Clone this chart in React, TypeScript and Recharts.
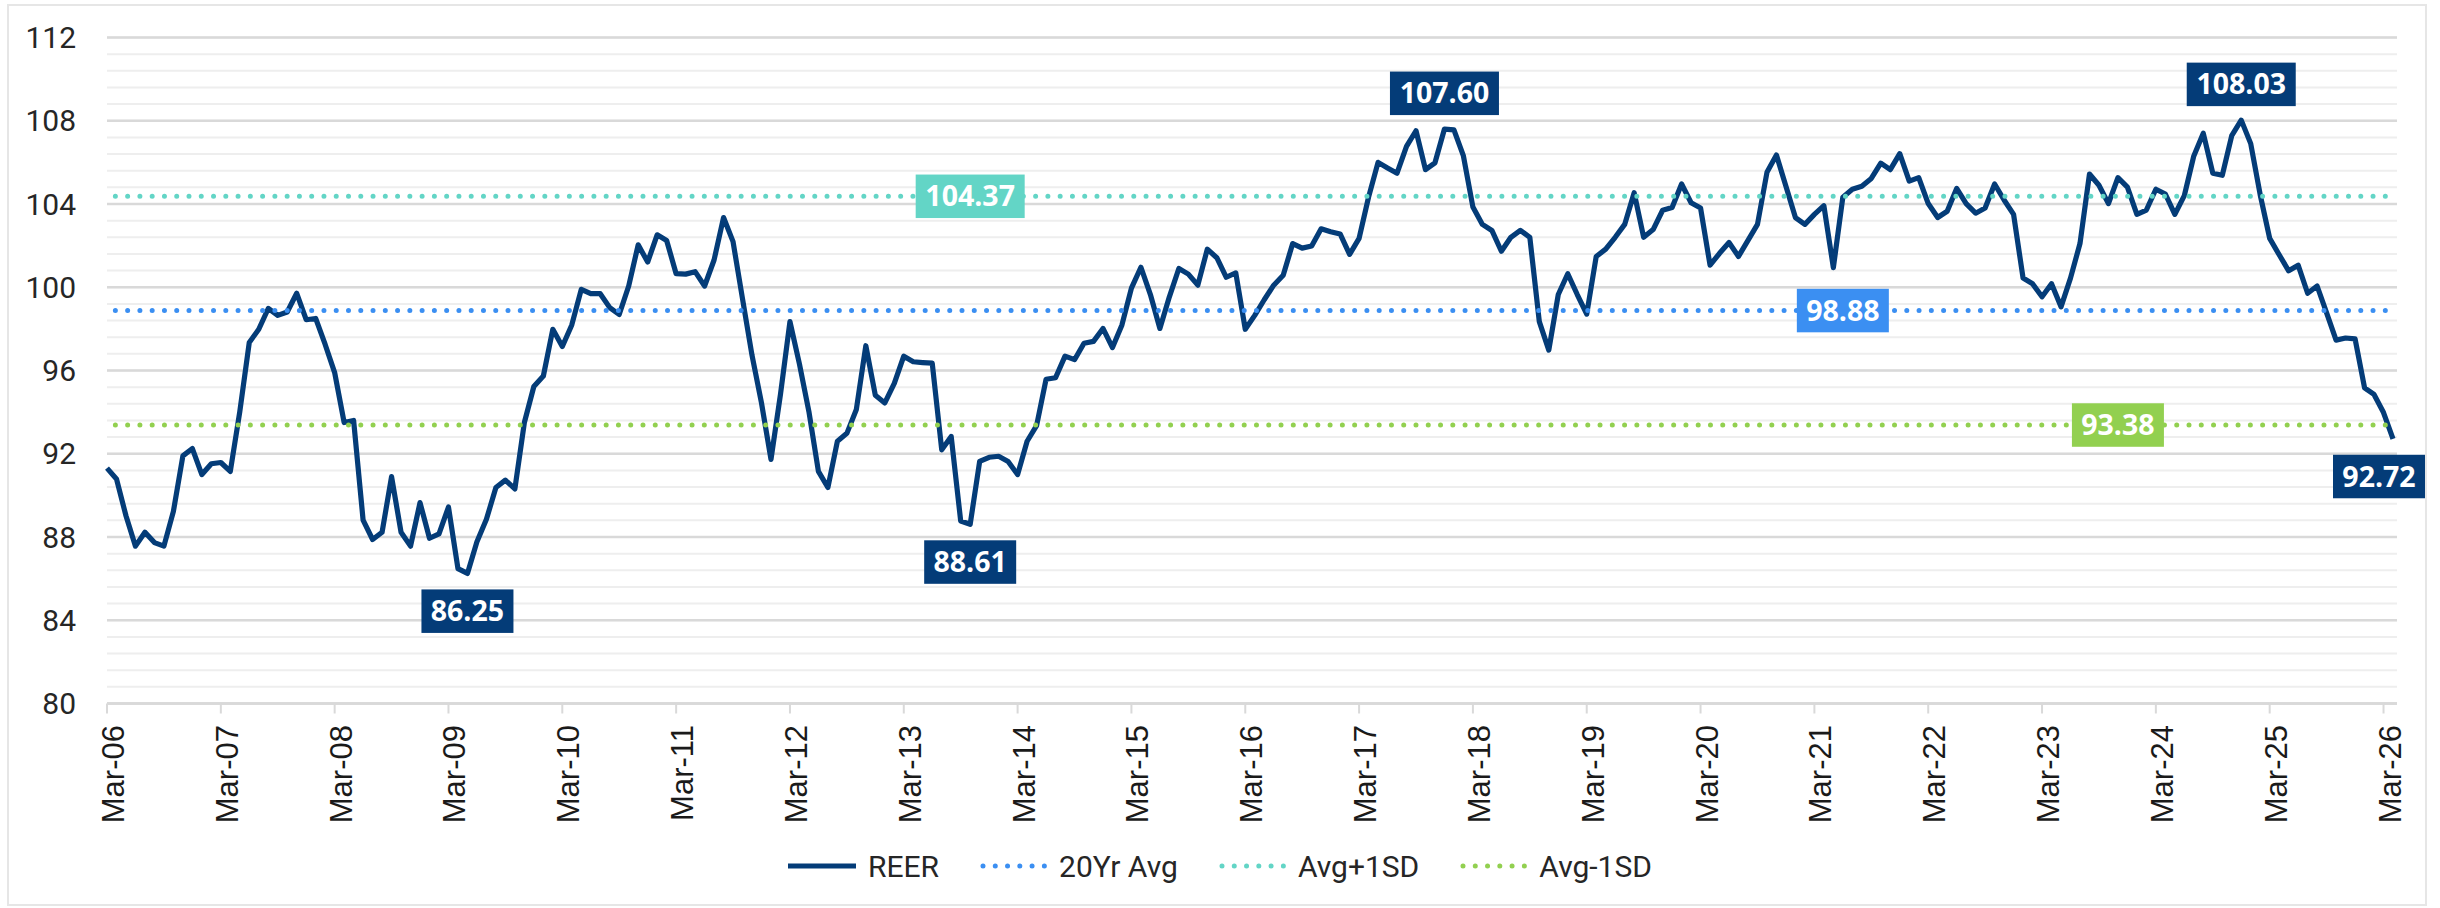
import React from "react";
import { LineChart, Line, XAxis, YAxis, CartesianGrid, Legend } from "recharts";

// monthly REER index, Mar-06 onwards
const REER = [
  91.31, 90.79, 89.02, 87.56, 88.23, 87.73, 87.56, 89.23, 91.9, 92.25,
  91.0, 91.52, 91.58, 91.15, 94.02, 97.35, 97.98, 98.98, 98.65, 98.81,
  99.71, 98.44, 98.5, 97.25, 95.9, 93.5, 93.6, 88.81, 87.88, 88.23,
  90.9, 88.23, 87.56, 89.65, 87.94, 88.15, 89.44, 86.48, 86.25, 87.77,
  88.85, 90.38, 90.73, 90.31, 93.5, 95.23, 95.73, 97.98, 97.15, 98.19,
  99.9, 99.69, 99.69, 99.02, 98.69, 100.06, 102.04, 101.21, 102.52, 102.25,
  100.65, 100.63, 100.75, 100.06, 101.31, 103.35, 102.19, 99.44, 96.73, 94.44,
  91.73, 94.85, 98.35, 96.31, 94.02, 91.15, 90.38, 92.6, 92.98, 94.13,
  97.19, 94.81, 94.44, 95.38, 96.69, 96.42, 96.38, 96.35, 92.19, 92.83,
  88.77, 88.61, 91.63, 91.83, 91.88, 91.63, 91.0, 92.6, 93.35, 95.58,
  95.65, 96.69, 96.52, 97.31, 97.4, 98.02, 97.1, 98.19, 99.96, 100.96,
  99.65, 98.02, 99.54, 100.9, 100.63, 100.1, 101.83, 101.42, 100.48, 100.69,
  97.98, 98.65, 99.4, 100.1, 100.58, 102.1, 101.88, 101.98, 102.81, 102.67,
  102.56, 101.58, 102.35, 104.33, 106.0, 105.73, 105.48, 106.77, 107.52, 105.65,
  105.98, 107.6, 107.56, 106.31, 103.85, 103.02, 102.73, 101.73, 102.4, 102.73,
  102.4, 98.35, 96.98, 99.65, 100.65, 99.65, 98.71, 101.48, 101.83, 102.4,
  103.02, 104.54, 102.4, 102.77, 103.7, 103.83, 104.96, 104.06, 103.81, 101.06,
  101.63, 102.15, 101.48, 102.25, 103.02, 105.52, 106.35, 104.85, 103.35, 103.02,
  103.5, 103.92, 100.94, 104.33, 104.71, 104.85, 105.23, 105.96, 105.65, 106.42,
  105.1, 105.27, 104.02, 103.35, 103.65, 104.75, 104.02, 103.56, 103.81, 104.96,
  104.19, 103.5, 100.44, 100.17, 99.54, 100.17, 99.06, 100.44, 102.1, 105.44,
  104.9, 104.02, 105.27, 104.81, 103.5, 103.71, 104.71, 104.48, 103.5, 104.4,
  106.31, 107.4, 105.48, 105.38, 107.29, 108.03, 106.9, 104.44, 102.35, 101.56,
  100.79, 101.06, 99.71, 100.06, 98.77, 97.46, 97.56, 97.52, 95.17, 94.85,
  93.98, 92.72,
];

const AVG_20Y = 98.88;
const AVG_PLUS_1SD = 104.37;
const AVG_MINUS_1SD = 93.38;

const MONTH_NAMES = ["Jan", "Feb", "Mar", "Apr", "May", "Jun", "Jul", "Aug", "Sep", "Oct", "Nov", "Dec"];
const START_MONTH = 2; // March
const START_YEAR = 2006;

const Y_TICKS = [80, 84, 88, 92, 96, 100, 104, 108, 112];
const Y_MINOR_STEP = 0.8;

// which points carry a value box
const REER_LABELS = [
  { index: 38, side: "below" },
  { index: 91, side: "below" },
  { index: 141, side: "above" },
  { index: 225, side: "above" },
  { index: 241, side: "below" },
];
const AVG_LABEL_AT = { avg: 183, plus: 91, minus: 212 };

const NAVY = "#043c78";
const BLUE = "#3b8ff2";
const TEAL = "#63d5c6";
const GREEN = "#92d050";
const TEXT = "#262626";
const DOTS = "0 12.27";

const MONTHS = REER.map((_, i) => {
  const m = START_MONTH + i;
  const yy = (START_YEAR + Math.floor(m / 12)) % 100;
  return `${MONTH_NAMES[m % 12]}-${String(yy).padStart(2, "0")}`;
});

const rows = MONTHS.map((month, i) => ({
  month,
  reer: REER[i],
  avg: AVG_20Y,
  plus: AVG_PLUS_1SD,
  minus: AVG_MINUS_1SD,
}));

const minorValues: number[] = [];
for (let v = Y_TICKS[0]; v <= Y_TICKS[Y_TICKS.length - 1] + 1e-6; v += Y_MINOR_STEP) {
  minorValues.push(+v.toFixed(2));
}

const LEGEND_ITEMS = [
  { label: "REER", color: NAVY, dotted: false },
  { label: "20Yr Avg", color: BLUE, dotted: true },
  { label: "Avg+1SD", color: TEAL, dotted: true },
  { label: "Avg-1SD", color: GREEN, dotted: true },
];

const RIGHT_LIMIT = 2425;

function ValueBox({ cx, cy, text, fill, mode }: any) {
  const w = text.length * 17 + 7;
  const h = 43.5;
  let x = cx - w / 2;
  x = Math.min(x, RIGHT_LIMIT - w);
  let y = cy - h / 2;
  if (mode === "above") y = cy - 14 - h;
  if (mode === "below") y = cy + 16;
  return (
    <g>
      <rect x={x} y={y} width={w} height={h} fill={fill} />
      <text
        x={x + w / 2}
        y={y + h / 2 + 10}
        textAnchor="middle"
        fill="#ffffff"
        fontFamily="'Open Sans', sans-serif"
        fontWeight={700}
        fontSize={28.5}
      >
        {text}
      </text>
    </g>
  );
}

const reerDot = (props: any) => {
  const { cx, cy, index } = props;
  const lab = REER_LABELS.find((l) => l.index === index);
  if (!lab) return <g key={`r-${index}`} />;
  return <ValueBox key={`r-${index}`} cx={cx} cy={cy} text={REER[index].toFixed(2)} fill={NAVY} mode={lab.side} />;
};

const levelDot = (at: number, value: number, fill: string) => (props: any) => {
  const { cx, cy, index } = props;
  if (index !== at) return <g key={`l-${value}-${index}`} />;
  return <ValueBox key={`l-${value}-${index}`} cx={cx} cy={cy} text={value.toFixed(2)} fill={fill} mode="center" />;
};

const XTick = ({ x, y, payload }: any) => (
  <text
    transform={`translate(${x},${y}) rotate(-90)`}
    x={-11.5}
    y={17}
    textAnchor="end"
    fill="#1a1a1a"
    fontFamily="'Liberation Sans', Arial, sans-serif"
    fontSize={31}
  >
    {payload.value}
  </text>
);

const renderLegend = () => (
  <div
    style={{
      display: "flex",
      justifyContent: "center",
      alignItems: "center",
      fontFamily: "Roboto, sans-serif",
      fontSize: 30,
      color: TEXT,
      height: 40,
    }}
  >
    {LEGEND_ITEMS.map((it) => (
      <div key={it.label} style={{ display: "flex", alignItems: "center", margin: "0 20px" }}>
        <svg width={68} height={10}>
          <line
            x1={it.dotted ? 4 : 0}
            y1={5}
            x2={it.dotted ? 66 : 68}
            y2={5}
            stroke={it.color}
            strokeWidth={it.dotted ? 5 : 5}
            strokeDasharray={it.dotted ? DOTS : undefined}
            strokeLinecap={it.dotted ? "round" : "butt"}
          />
        </svg>
        <span style={{ marginLeft: 12 }}>{it.label}</span>
      </div>
    ))}
  </div>
);

export default function App() {
  return (
    <div style={{ position: "absolute", left: 0, top: 0, width: 2440, height: 908, background: "#fff" }}>
      <div
        style={{
          position: "absolute",
          left: 7,
          top: 4,
          width: 2420,
          height: 902,
          border: "2px solid #e6e6e6",
          boxSizing: "border-box",
        }}
      />
      <div style={{ position: "absolute", left: 0, top: 0 }}>
        <LineChart width={2440} height={908} data={rows} margin={{ top: 37.5, right: 43, bottom: 74.5, left: 37 }}>
          <CartesianGrid
            vertical={false}
            stroke="#eeeeee"
            strokeWidth={2}
            horizontalCoordinatesGenerator={({ yAxis, offset }: any) =>
              minorValues.map((v) =>
                yAxis && typeof yAxis.scale === "function"
                  ? yAxis.scale(v)
                  : offset.top + ((112 - v) / 32) * offset.height
              )
            }
          />
          <CartesianGrid vertical={false} stroke="#d9d9d9" strokeWidth={2.5} />
          <XAxis
            dataKey="month"
            interval={11}
            padding={{ left: 0, right: 4 }}
            height={130}
            tickSize={10}
            tickMargin={0}
            tickLine={{ stroke: "#d9d9d9", strokeWidth: 2 }}
            axisLine={{ stroke: "#d9d9d9", strokeWidth: 2.5 }}
            tick={<XTick />}
          />
          <YAxis
            type="number"
            domain={[80, 112]}
            ticks={Y_TICKS}
            interval={0}
            width={70}
            axisLine={false}
            tickLine={false}
            tickSize={0}
            tickMargin={31}
            tick={{ fill: TEXT, fontSize: 30, fontFamily: "Roboto, sans-serif" }}
          />
          <Line
            type="linear"
            dataKey="reer"
            name="REER"
            stroke={NAVY}
            strokeWidth={5.2}
            strokeLinejoin="round"
            dot={reerDot}
            activeDot={false}
            isAnimationActive={false}
          />
          <Line
            type="linear"
            dataKey="avg"
            name="20Yr Avg"
            stroke={BLUE}
            strokeWidth={5}
            strokeDasharray={DOTS}
            strokeDashoffset={3.9}
            strokeLinecap="round"
            dot={levelDot(AVG_LABEL_AT.avg, AVG_20Y, BLUE)}
            activeDot={false}
            isAnimationActive={false}
          />
          <Line
            type="linear"
            dataKey="plus"
            name="Avg+1SD"
            stroke={TEAL}
            strokeWidth={5}
            strokeDasharray={DOTS}
            strokeDashoffset={3.9}
            strokeLinecap="round"
            dot={levelDot(AVG_LABEL_AT.plus, AVG_PLUS_1SD, TEAL)}
            activeDot={false}
            isAnimationActive={false}
          />
          <Line
            type="linear"
            dataKey="minus"
            name="Avg-1SD"
            stroke={GREEN}
            strokeWidth={5}
            strokeDasharray={DOTS}
            strokeDashoffset={3.9}
            strokeLinecap="round"
            dot={levelDot(AVG_LABEL_AT.minus, AVG_MINUS_1SD, GREEN)}
            activeDot={false}
            isAnimationActive={false}
          />
          <Legend
            layout="horizontal"
            verticalAlign="middle"
            align="center"
            wrapperStyle={{ top: 846, left: 0, width: 2440 }}
            content={renderLegend}
          />
        </LineChart>
      </div>
    </div>
  );
}
